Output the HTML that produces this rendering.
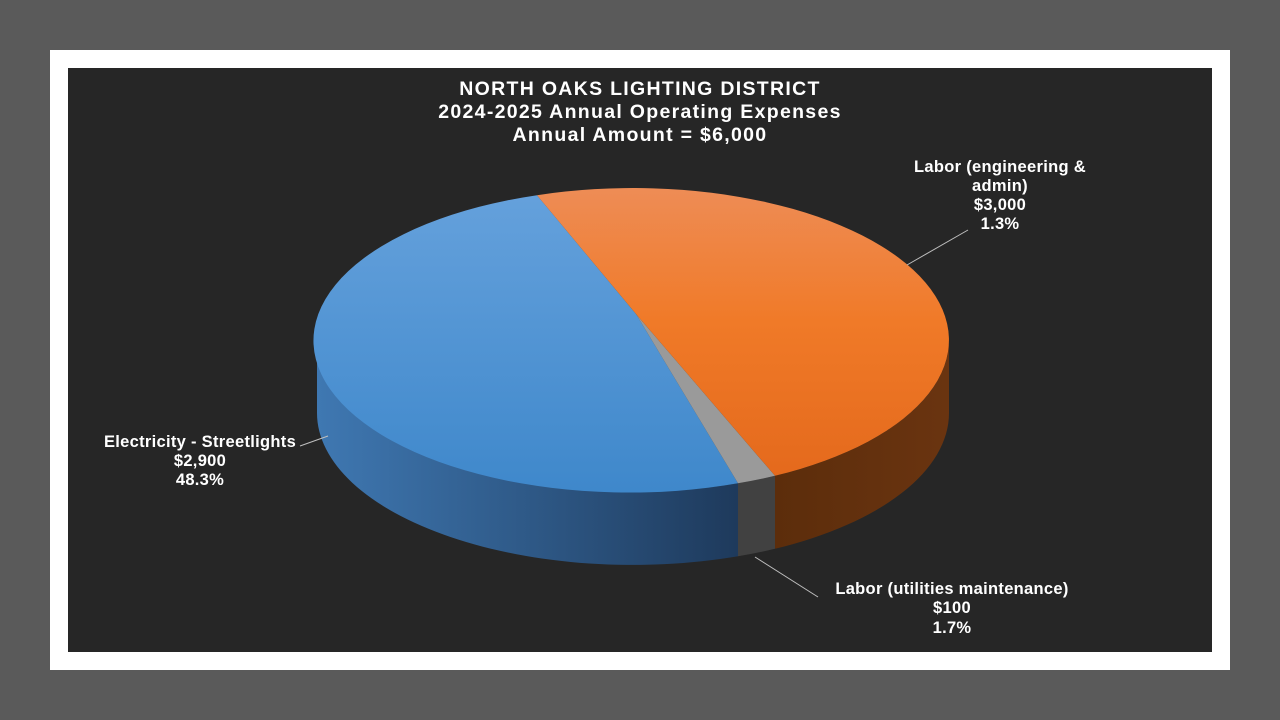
<!DOCTYPE html>
<html><head><meta charset="utf-8"><style>
html,body{margin:0;padding:0;background:#5a5a5a;}
svg{display:block;}
text{font-family:"Liberation Sans",Arial,sans-serif;font-weight:bold;fill:#fff;}
</style></head><body>
<svg width="1280" height="720" viewBox="0 0 1280 720">
<defs>
<linearGradient id="bs" x1="317" y1="0" x2="738" y2="0" gradientUnits="userSpaceOnUse">
<stop offset="0" stop-color="#3f78b2"/><stop offset="1" stop-color="#1e3a5c"/></linearGradient>
<linearGradient id="os" x1="775" y1="0" x2="949" y2="0" gradientUnits="userSpaceOnUse">
<stop offset="0" stop-color="#5c2d0b"/><stop offset="1" stop-color="#6a3410"/></linearGradient>
<linearGradient id="bt" x1="0" y1="190" x2="0" y2="490" gradientUnits="userSpaceOnUse">
<stop offset="0" stop-color="#65a1dc"/><stop offset="1" stop-color="#3f88cb"/></linearGradient>
<linearGradient id="ot" x1="0" y1="190" x2="0" y2="480" gradientUnits="userSpaceOnUse">
<stop offset="0" stop-color="#ee8c55"/><stop offset="0.45" stop-color="#f07a28"/><stop offset="1" stop-color="#e4691c"/></linearGradient>
</defs>
<rect x="50" y="50" width="1180" height="620" fill="#fff"/>
<rect x="68" y="68" width="1144" height="584" fill="#262626"/>
<g text-anchor="middle" font-size="19.5" letter-spacing="1.3">
<text x="640" y="95">NORTH OAKS LIGHTING DISTRICT</text>
<text x="640" y="118">2024-2025 Annual Operating Expenses</text>
<text x="640" y="141">Annual Amount = $6,000</text>
</g>
<!-- sides -->
<path d="M317,340 A316,152 0 0,0 738,483.3 L738,556.3 A316,152 0 0,1 317,413 Z" fill="url(#bs)"/>
<path d="M738,483.3 A316,152 0 0,0 775,475.8 L775,548.8 A316,152 0 0,1 738,556.3 Z" fill="#414141"/>
<path d="M775,475.8 A316,152 0 0,0 949,340 L949,413 A316,152 0 0,1 775,548.8 Z" fill="url(#os)"/>
<!-- tops -->
<path d="M636,314 L537,195.2 A316,152 0 1,0 738,483.3 Z" fill="url(#bt)"/>
<path d="M636,314 L738,483.3 A316,152 0 0,0 775,475.8 Z" fill="#9a9a9a"/>
<path d="M636,314 L775,475.8 A316,152 0 0,0 537,195.2 Z" fill="url(#ot)"/>
<!-- leaders -->
<g stroke="#bfbfbf" stroke-width="1" fill="none">
<path d="M907,265 L968,230"/>
<path d="M300,446 L328,436"/>
<path d="M755,557 L818,597"/>
</g>
<g text-anchor="middle" font-size="16.5" letter-spacing="0.3">
<text x="1000" y="172">Labor (engineering &amp;</text>
<text x="1000" y="191">admin)</text>
<text x="1000" y="210">$3,000</text>
<text x="1000" y="229">1.3%</text>
<text x="200" y="447">Electricity  - Streetlights</text>
<text x="200" y="466">$2,900</text>
<text x="200" y="485">48.3%</text>
<text x="952" y="594">Labor (utilities maintenance)</text>
<text x="952" y="613">$100</text>
<text x="952" y="633">1.7%</text>
</g>
</svg>
</body></html>
